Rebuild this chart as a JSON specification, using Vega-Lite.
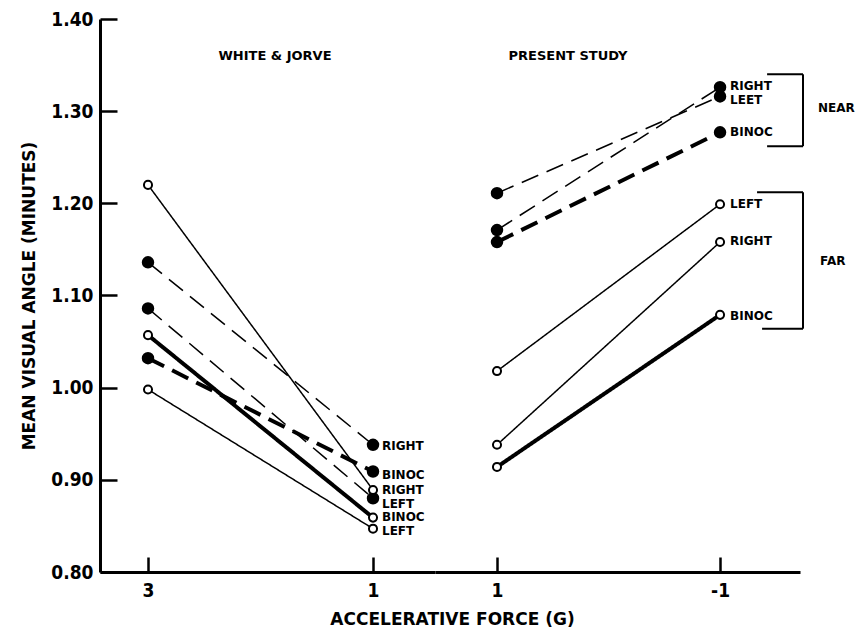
{
  "$schema": "https://vega.github.io/schema/vega-lite/v6.json",
  "background": "white",
  "padding": {"left": 20, "top": 10, "right": 5, "bottom": 5},
  "spacing": 0,
  "bounds": "flush",
  "datasets": {
    "lines": [
      {"study": "WJ", "distance": "near", "eye": "RIGHT", "force": 3, "angle": 1.136},
      {"study": "WJ", "distance": "near", "eye": "RIGHT", "force": 1, "angle": 0.938},
      {"study": "WJ", "distance": "near", "eye": "LEFT", "force": 3, "angle": 1.086},
      {"study": "WJ", "distance": "near", "eye": "LEFT", "force": 1, "angle": 0.880},
      {"study": "WJ", "distance": "near", "eye": "BINOC", "force": 3, "angle": 1.032},
      {"study": "WJ", "distance": "near", "eye": "BINOC", "force": 1, "angle": 0.909},
      {"study": "WJ", "distance": "far", "eye": "RIGHT", "force": 3, "angle": 1.220},
      {"study": "WJ", "distance": "far", "eye": "RIGHT", "force": 1, "angle": 0.889},
      {"study": "WJ", "distance": "far", "eye": "BINOC", "force": 3, "angle": 1.057},
      {"study": "WJ", "distance": "far", "eye": "BINOC", "force": 1, "angle": 0.859},
      {"study": "WJ", "distance": "far", "eye": "LEFT", "force": 3, "angle": 0.998},
      {"study": "WJ", "distance": "far", "eye": "LEFT", "force": 1, "angle": 0.847},
      {"study": "PS", "distance": "near", "eye": "RIGHT", "force": 1, "angle": 1.171},
      {"study": "PS", "distance": "near", "eye": "RIGHT", "force": -1, "angle": 1.326},
      {"study": "PS", "distance": "near", "eye": "LEFT", "force": 1, "angle": 1.211},
      {"study": "PS", "distance": "near", "eye": "LEFT", "force": -1, "angle": 1.316},
      {"study": "PS", "distance": "near", "eye": "BINOC", "force": 1, "angle": 1.158},
      {"study": "PS", "distance": "near", "eye": "BINOC", "force": -1, "angle": 1.277},
      {"study": "PS", "distance": "far", "eye": "LEFT", "force": 1, "angle": 1.018},
      {"study": "PS", "distance": "far", "eye": "LEFT", "force": -1, "angle": 1.199},
      {"study": "PS", "distance": "far", "eye": "RIGHT", "force": 1, "angle": 0.938},
      {"study": "PS", "distance": "far", "eye": "RIGHT", "force": -1, "angle": 1.158},
      {"study": "PS", "distance": "far", "eye": "BINOC", "force": 1, "angle": 0.914},
      {"study": "PS", "distance": "far", "eye": "BINOC", "force": -1, "angle": 1.079}
    ],
    "labels": [
      {"study": "WJ", "force": 1, "angle": 0.937, "text": "RIGHT"},
      {"study": "WJ", "force": 1, "angle": 0.905, "text": "BINOC"},
      {"study": "WJ", "force": 1, "angle": 0.889, "text": "RIGHT"},
      {"study": "WJ", "force": 1, "angle": 0.874, "text": "LEFT"},
      {"study": "WJ", "force": 1, "angle": 0.860, "text": "BINOC"},
      {"study": "WJ", "force": 1, "angle": 0.845, "text": "LEFT"},
      {"study": "PS", "force": -1, "angle": 1.327, "text": "RIGHT"},
      {"study": "PS", "force": -1, "angle": 1.312, "text": "LEET"},
      {"study": "PS", "force": -1, "angle": 1.277, "text": "BINOC"},
      {"study": "PS", "force": -1, "angle": 1.199, "text": "LEFT"},
      {"study": "PS", "force": -1, "angle": 1.159, "text": "RIGHT"},
      {"study": "PS", "force": -1, "angle": 1.078, "text": "BINOC"}
    ],
    "titles": [
      {"study": "WJ", "force": 1.871, "angle": 1.36, "text": "WHITE & JORVE"},
      {"study": "PS", "force": 0.363, "angle": 1.36, "text": "PRESENT STUDY"}
    ],
    "brackets": [
      {"force": -1.422, "force2": -1.744, "angle": 1.340, "angle2": 1.340},
      {"force": -1.744, "force2": -1.744, "angle": 1.340, "angle2": 1.262},
      {"force": -1.422, "force2": -1.744, "angle": 1.262, "angle2": 1.262},
      {"force": -1.332, "force2": -1.744, "angle": 1.212, "angle2": 1.212},
      {"force": -1.744, "force2": -1.744, "angle": 1.212, "angle2": 1.064},
      {"force": -1.377, "force2": -1.744, "angle": 1.064, "angle2": 1.064}
    ],
    "groups": [
      {"force": -1.879, "angle": 1.303, "text": "NEAR"},
      {"force": -1.897, "angle": 1.137, "text": "FAR"}
    ]
  },
  "hconcat": [
    {
      "width": 335,
      "height": 553,
      "layer": [
        {
          "data": {"name": "lines"},
          "transform": [{"filter": "datum.study === 'WJ'"}],
          "mark": {"type": "line", "color": "black"},
          "encoding": {
            "x": {"field": "force", "type": "quantitative",
              "scale": {"domain": [0.449, 3.4267], "reverse": true, "nice": false, "zero": false},
              "axis": {"values": [3, 1], "format": "d", "tickSize": -15, "labelPadding": 24,
                "title": "ACCELERATIVE FORCE (G)", "titleX": 352, "titleY": 47, "titleBaseline": "middle", "titleAlign": "center"}},
            "y": {"field": "angle", "type": "quantitative",
              "scale": {"domain": [0.8, 1.4], "nice": false, "zero": false},
              "axis": {"values": [0.8, 0.9, 1.0, 1.1, 1.2, 1.3, 1.4], "format": ".2f", "tickSize": -17, "labelPadding": 24,
                "title": "MEAN VISUAL ANGLE (MINUTES)", "titlePadding": 12}},
            "detail": [{"field": "distance"}, {"field": "eye"}],
            "strokeDash": {"field": "distance", "type": "nominal", "scale": {"type": "ordinal", "domain": ["near", "far"], "range": [[18, 9], [1, 0]]}, "legend": null},
            "strokeWidth": {"field": "eye", "type": "nominal", "scale": {"type": "ordinal", "domain": ["BINOC", "LEFT", "RIGHT"], "range": [4, 1.5, 1.5]}, "legend": null}
          }
        },
        {
          "data": {"name": "lines"},
          "transform": [{"filter": "datum.study === 'WJ'"}],
          "mark": {"type": "point", "shape": "circle", "stroke": "black", "strokeWidth": 2, "opacity": 1},
          "encoding": {
            "x": {"field": "force", "type": "quantitative"},
            "y": {"field": "angle", "type": "quantitative"},
            "fill": {"field": "distance", "type": "nominal", "scale": {"domain": ["near", "far"], "range": ["black", "white"]}, "legend": null},
            "size": {"field": "distance", "type": "nominal", "scale": {"type": "ordinal", "domain": ["near", "far"], "range": [110, 65]}, "legend": null}
          }
        },
        {
          "data": {"name": "labels"},
          "transform": [{"filter": "datum.study === 'WJ'"}],
          "mark": {"type": "text", "align": "left", "baseline": "middle", "dx": 9, "font": "DejaVu Sans", "fontWeight": "bold", "fontSize": 12, "color": "black"},
          "encoding": {
            "x": {"field": "force", "type": "quantitative"},
            "y": {"field": "angle", "type": "quantitative"},
            "text": {"field": "text"}
          }
        },
        {
          "data": {"name": "titles"},
          "transform": [{"filter": "datum.study === 'WJ'"}],
          "mark": {"type": "text", "align": "center", "baseline": "middle", "font": "DejaVu Sans", "fontWeight": "bold", "fontSize": 13, "color": "black"},
          "encoding": {
            "x": {"field": "force", "type": "quantitative"},
            "y": {"field": "angle", "type": "quantitative"},
            "text": {"field": "text"}
          }
        }
      ]
    },
    {
      "width": 365,
      "height": 553,
      "layer": [
        {
          "data": {"name": "lines"},
          "transform": [{"filter": "datum.study === 'PS'"}],
          "mark": {"type": "line", "color": "black"},
          "encoding": {
            "x": {"field": "force", "type": "quantitative",
              "scale": {"domain": [-1.717, 1.556], "reverse": true, "nice": false, "zero": false},
              "axis": {"values": [1, -1], "labelExpr": "datum.value < 0 ? '-1' : '1'", "tickSize": -15, "labelPadding": 24, "title": null}},
            "y": {"field": "angle", "type": "quantitative",
              "scale": {"domain": [0.8, 1.4], "nice": false, "zero": false},
              "axis": null},
            "detail": [{"field": "distance"}, {"field": "eye"}],
            "strokeDash": {"field": "distance", "type": "nominal", "scale": {"type": "ordinal", "domain": ["near", "far"], "range": [[18, 9], [1, 0]]}, "legend": null},
            "strokeWidth": {"field": "eye", "type": "nominal", "scale": {"type": "ordinal", "domain": ["BINOC", "LEFT", "RIGHT"], "range": [4, 1.5, 1.5]}, "legend": null}
          }
        },
        {
          "data": {"name": "lines"},
          "transform": [{"filter": "datum.study === 'PS'"}],
          "mark": {"type": "point", "shape": "circle", "stroke": "black", "strokeWidth": 2, "opacity": 1},
          "encoding": {
            "x": {"field": "force", "type": "quantitative"},
            "y": {"field": "angle", "type": "quantitative"},
            "fill": {"field": "distance", "type": "nominal", "scale": {"domain": ["near", "far"], "range": ["black", "white"]}, "legend": null},
            "size": {"field": "distance", "type": "nominal", "scale": {"type": "ordinal", "domain": ["near", "far"], "range": [110, 65]}, "legend": null}
          }
        },
        {
          "data": {"name": "labels"},
          "transform": [{"filter": "datum.study === 'PS'"}],
          "mark": {"type": "text", "align": "left", "baseline": "middle", "dx": 10, "font": "DejaVu Sans", "fontWeight": "bold", "fontSize": 12, "color": "black"},
          "encoding": {
            "x": {"field": "force", "type": "quantitative"},
            "y": {"field": "angle", "type": "quantitative"},
            "text": {"field": "text"}
          }
        },
        {
          "data": {"name": "titles"},
          "transform": [{"filter": "datum.study === 'PS'"}],
          "mark": {"type": "text", "align": "center", "baseline": "middle", "font": "DejaVu Sans", "fontWeight": "bold", "fontSize": 13, "color": "black"},
          "encoding": {
            "x": {"field": "force", "type": "quantitative"},
            "y": {"field": "angle", "type": "quantitative"},
            "text": {"field": "text"}
          }
        },
        {
          "data": {"name": "brackets"},
          "mark": {"type": "rule", "color": "black", "strokeWidth": 2, "clip": false},
          "encoding": {
            "x": {"field": "force", "type": "quantitative"},
            "x2": {"field": "force2"},
            "y": {"field": "angle", "type": "quantitative"},
            "y2": {"field": "angle2"}
          }
        },
        {
          "data": {"name": "groups"},
          "mark": {"type": "text", "align": "left", "baseline": "middle", "font": "DejaVu Sans", "fontWeight": "bold", "fontSize": 12, "color": "black"},
          "encoding": {
            "x": {"field": "force", "type": "quantitative"},
            "y": {"field": "angle", "type": "quantitative"},
            "text": {"field": "text"}
          }
        }
      ]
    }
  ],
  "config": {
    "view": {"stroke": null},
    "font": "DejaVu Sans",
    "axis": {
      "grid": false,
      "domainColor": "black", "domainWidth": 3,
      "tickColor": "black", "tickWidth": 2.5,
      "labelColor": "black", "labelFont": "DejaVu Sans Condensed", "labelFontWeight": "bold", "labelFontSize": 19,
      "titleColor": "black", "titleFont": "DejaVu Sans", "titleFontWeight": "bold", "titleFontSize": 17
    }
  }
}
